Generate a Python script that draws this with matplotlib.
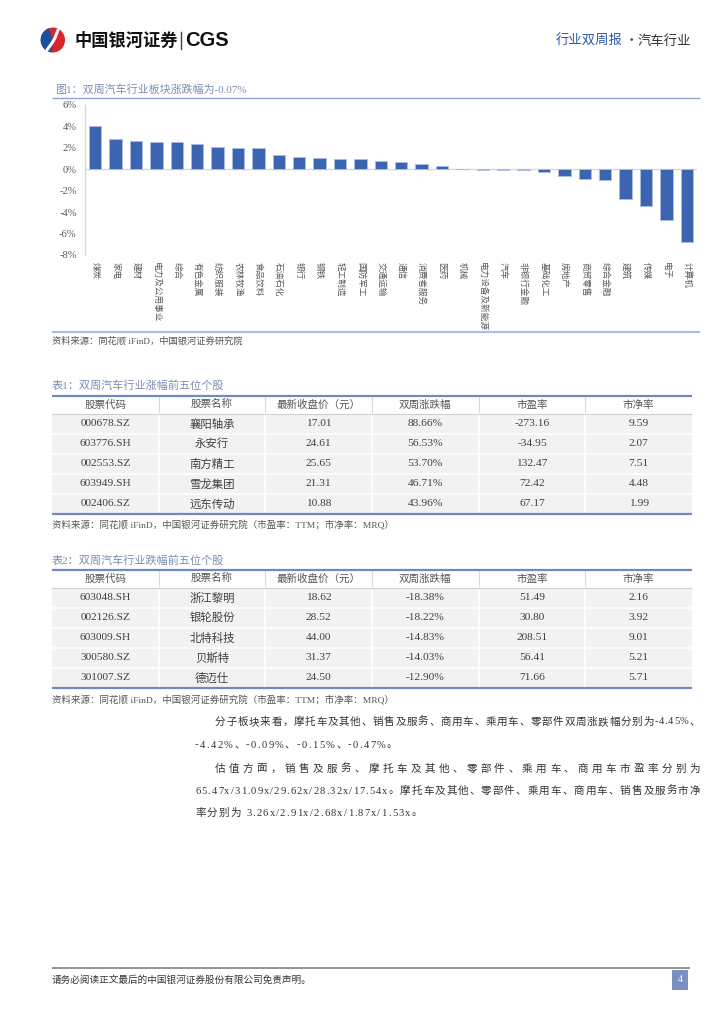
import matplotlib
matplotlib.use('Agg')
import matplotlib.pyplot as plt
from matplotlib.patches import Rectangle, Ellipse, Wedge
from matplotlib.lines import Line2D

# ---------------- data ----------------
industries = ['煤炭', '家电', '建材', '电力及公用事业', '综合', '有色金属', '纺织服装', '农林牧渔',
              '食品饮料', '石油石化', '银行', '钢铁', '轻工制造', '国防军工', '交通运输', '通信',
              '消费者服务', '医药', '机械', '电力设备及新能源', '汽车', '非银行金融', '基础化工',
              '房地产', '商贸零售', '综合金融', '建筑', '传媒', '电子', '计算机']
changes = [4.00, 2.87, 2.68, 2.59, 2.52, 2.37, 2.06, 1.96, 1.95, 1.37, 1.12, 1.09, 1.00, 0.93,
           0.75, 0.65, 0.53, 0.31, 0.03, -0.02, -0.07, -0.10, -0.28, -0.62, -0.93, -0.98,
           -2.80, -3.43, -4.74, -6.75]
y_ticks = [-8, -6, -4, -2, 0, 2, 4, 6]

table_header = ['股票代码', '股票名称', '最新收盘价（元）', '双周涨跌幅', '市盈率', '市净率']

top_codes = ['000678.SZ', '603776.SH', '002553.SZ', '603949.SH', '002406.SZ']
top_names = ['襄阳轴承', '永安行', '南方精工', '雪龙集团', '远东传动']
top_price = ['17.01', '24.61', '25.65', '21.31', '10.88']
top_chg = ['88.66%', '56.53%', '53.70%', '46.71%', '43.96%']
top_pe = ['-273.16', '-34.95', '132.47', '72.42', '67.17']
top_pb = ['9.59', '2.07', '7.51', '4.48', '1.99']

bot_codes = ['603048.SH', '002126.SZ', '603009.SH', '300580.SZ', '301007.SZ']
bot_names = ['浙江黎明', '银轮股份', '北特科技', '贝斯特', '德迈仕']
bot_price = ['18.62', '28.52', '44.00', '31.37', '24.50']
bot_chg = ['-18.38%', '-18.22%', '-14.83%', '-14.03%', '-12.90%']
bot_pe = ['51.49', '30.80', '208.51', '56.41', '71.66']
bot_pb = ['2.16', '3.92', '9.01', '5.21', '5.71']

fig_title = '图1：双周汽车行业板块涨跌幅为-0.07%'
t1_title = '表1：双周汽车行业涨幅前五位个股'
t2_title = '表2：双周汽车行业跌幅前五位个股'
src1 = '资料来源：同花顺 iFinD，中国银河证券研究院'
src2 = '资料来源：同花顺 iFinD，中国银河证券研究院（市盈率：TTM；市净率：MRQ）'
para_lines = [
    '分子板块来看，摩托车及其他、销售及服务、商用车、乘用车、零部件双周涨跌幅分别为-4.45%、',
    '-4.42%、-0.09%、-0.15%、-0.47%。',
    '估值方面，销售及服务、摩托车及其他、零部件、乘用车、商用车市盈率分别为',
    '65.47x/31.09x/29.62x/28.32x/17.54x。摩托车及其他、零部件、乘用车、商用车、销售及服务市净',
    '率分别为 3.26x/2.91x/2.68x/1.87x/1.53x。',
]
footer_text = '请务必阅读正文最后的中国银河证券股份有限公司免责声明。'

# ---------------- style ----------------
CJK = ['Noto Sans CJK SC', 'DejaVu Sans']
SERIF = ['Liberation Serif', 'Noto Sans CJK SC', 'DejaVu Sans']
plt.rcParams['font.family'] = CJK

W, H = 724, 1024
fig = plt.figure(figsize=(W / 100, H / 100), dpi=100)
fig.patch.set_facecolor('white')
ax0 = fig.add_axes([0, 0, 1, 1])
ax0.set_xlim(0, W)
ax0.set_ylim(H, 0)
ax0.axis('off')
renderer = fig.canvas.get_renderer()


def hline(x0, x1, y, color, lw):
    ax0.add_line(Line2D([x0, x1], [y, y], color=color, lw=lw, solid_capstyle='butt'))


def draw_line(s, x0, y, size, x1=None, color='#333333', family=SERIF, spacing=0.0):
    widths = []
    for ch in s:
        if ch == ' ':
            widths.append(size / 0.72 * 0.3)
            continue
        t = ax0.text(0, 0, ch, fontsize=size, family=family)
        widths.append(t.get_window_extent(renderer).width)
        t.remove()
    total = sum(widths)
    n = len(s)
    if x1 is not None and n > 1:
        extra = (x1 - x0 - total) / (n - 1)
    else:
        extra = spacing
    x = x0
    for ch, w in zip(s, widths):
        if ch != ' ':
            ax0.text(x, y, ch, fontsize=size, family=family, color=color,
                     ha='left', va='center')
        x += w + extra


# ---------------- header ----------------
ax0.add_patch(Ellipse((53, 40), 24, 25, facecolor='#d9262c', edgecolor='none'))
ax0.add_patch(Wedge((53, 40), 12.5, 95, 250, facecolor='#1d4f9f', edgecolor='none'))
ax0.plot([47, 52, 55, 58], [50, 43, 38, 30], color='white', lw=2.2, solid_capstyle='round')
ax0.text(74, 40.5, '中国银河证券', fontsize=12.4, fontweight='bold', color='#111111',
         ha='left', va='center', family=CJK)
ax0.add_line(Line2D([181, 181], [32, 49], color='#444444', lw=1.0))
ax0.text(185, 40.5, 'CGS', fontsize=14.5, fontweight='bold', color='#111111',
         ha='left', va='center', family=['Liberation Sans'])
ax0.text(556, 41, '行业双周报', fontsize=9.6, color='#2f5aa8', ha='left', va='center', family=CJK)
ax0.text(631, 41, '·', fontsize=9.6, color='#555555', ha='center', va='center', family=CJK)
ax0.text(638, 41, '汽车行业', fontsize=9.6, color='#333333', ha='left', va='center', family=CJK)

# ---------------- figure 1 ----------------
ax0.text(55, 89, fig_title, fontsize=7.9, color='#7b8db2', ha='left', va='center', family=SERIF)
hline(52, 700, 98, '#8ea4d0', 1.0)

ax = fig.add_axes([85 / W, 1 - 255 / H, (697 - 85) / W, (255 - 105) / H])
xpos = list(range(len(industries)))
colors = ['#d96b6b' if n == '汽车' else '#3c64b0' for n in industries]
ax.bar(xpos, changes, width=0.6, color=colors, edgecolor='#a9bde3', linewidth=0.7, zorder=3)
ax.axhline(0, color='#d9d9d9', lw=1.0, zorder=2)
ax.set_xlim(-0.5, len(industries) - 0.5)
ax.set_ylim(-8, 6)
ax.set_yticks(y_ticks)
ax.set_yticklabels([f'{v}%' for v in y_ticks], family=SERIF, fontsize=7.6, color='#595959')
ax.set_xticks(xpos)
ax.set_xticklabels(industries, rotation=-90, fontsize=6.2, color='#595959', family=CJK,
                   va='top', ha='center')
ax.tick_params(axis='both', length=0)
ax.tick_params(axis='y', pad=6)
ax.tick_params(axis='x', pad=5)
for sp in ['top', 'right', 'bottom']:
    ax.spines[sp].set_visible(False)
ax.spines['left'].set_color('#d9d9d9')
ax.spines['left'].set_linewidth(1.0)
ax.set_facecolor('none')

hline(52, 700, 332, '#a9bde3', 1.6)
ax0.text(52, 341, src1, fontsize=6.7, color='#555555', ha='left', va='center', family=SERIF)


# ---------------- tables ----------------
def draw_table(y_title, y_top, title, cols, src_y, src):
    ax0.text(52, y_title, title, fontsize=8.0, color='#7b8db2', ha='left', va='center', family=SERIF)
    x0, x1 = 52, 692
    ncol = len(table_header)
    cw = (x1 - x0) / ncol
    hh, rh = 18, 20
    nrow = len(cols[0])
    for r in range(nrow):
        yt = y_top + hh + r * rh
        ax0.add_patch(Rectangle((x0, yt), x1 - x0, rh, facecolor='#f2f2f2', edgecolor='none'))
    for r in range(1, nrow):
        hline(x0, x1, y_top + hh + r * rh, 'white', 1.2)
    for c in range(1, ncol):
        xx = x0 + c * cw
        ax0.add_line(Line2D([xx, xx], [y_top, y_top + hh], color='#d9d9d9', lw=0.8))
        ax0.add_line(Line2D([xx, xx], [y_top + hh, y_top + hh + nrow * rh], color='white', lw=1.2))
    hline(x0, x1, y_top + hh, '#d0d0d0', 0.8)
    hline(x0, x1, y_top, '#6f89c1', 1.6)
    hline(x0, x1, y_top + hh + nrow * rh, '#6f89c1', 1.6)
    for c, h in enumerate(table_header):
        ax0.text(x0 + (c + 0.5) * cw, y_top + hh / 2, h, fontsize=7.6, color='#555555',
                 ha='center', va='center', family=SERIF)
    for c, col in enumerate(cols):
        for r, v in enumerate(col):
            ax0.text(x0 + (c + 0.5) * cw, y_top + hh + (r + 0.5) * rh, v, fontsize=8.2,
                     color='#404040', ha='center', va='center', family=SERIF)
    ax0.text(52, src_y, src, fontsize=6.8, color='#555555', ha='left', va='center', family=SERIF)


draw_table(385, 396, t1_title, [top_codes, top_names, top_price, top_chg, top_pe, top_pb], 525, src2)
draw_table(560, 570, t2_title, [bot_codes, bot_names, bot_price, bot_chg, bot_pe, bot_pb], 700, src2)

# ---------------- paragraphs ----------------
psize = 7.6
draw_line(para_lines[0], 215, 722, psize, x1=700)
draw_line(para_lines[1], 195, 745, psize, spacing=1.4)
draw_line(para_lines[2], 215, 769, psize, x1=700)
draw_line(para_lines[3], 195, 791, psize, x1=700)
draw_line(para_lines[4], 195, 813, psize, spacing=1.2)

# ---------------- footer ----------------
hline(52, 690, 968, '#808080', 1.2)
ax0.text(52, 980, footer_text, fontsize=6.9, color='#333333', ha='left', va='center', family=CJK)
ax0.add_patch(Rectangle((672, 970), 16, 20, facecolor='#7b8fc0', edgecolor='none'))
ax0.text(680, 980, '4', fontsize=7, color='white', ha='center', va='center', family=SERIF)

fig.savefig('out.png', dpi=100, facecolor='white')
